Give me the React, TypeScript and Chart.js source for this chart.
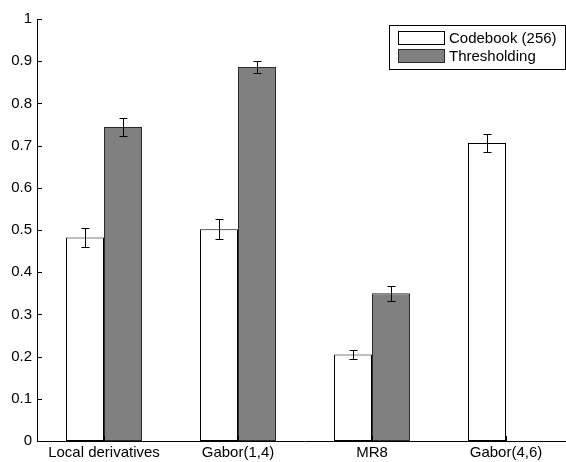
import React, { useEffect, useRef } from "react";
import { Chart, registerables } from "chart.js";

Chart.register(...registerables);

const categories = ["Local derivatives", "Gabor(1,4)", "MR8", "Gabor(4,6)"];
const seriesLabels = ["Codebook (256)", "Thresholding"];
const codebookValues = [0.482, 0.502, 0.205, 0.706];
const codebookErrors = [0.022, 0.023, 0.011, 0.022];
const thresholdingValues: (number | null)[] = [0.744, 0.886, 0.35, null];
const thresholdingErrors: (number | null)[] = [0.021, 0.014, 0.0175, null];
const yTicks = [0, 0.1, 0.2, 0.3, 0.4, 0.5, 0.6, 0.7, 0.8, 0.9, 1];
const seriesFill = ["#ffffff", "#808080"];
const seriesBorder = ["#000000", "#2a2a2a"];
const errorSets = [codebookErrors, thresholdingErrors];

const FONT = "'Liberation Sans', Arial, Helvetica, sans-serif";

const errorBarPlugin = {
  id: "errorBars",
  afterDatasetsDraw(chart: any) {
    const ctx = chart.ctx;
    const yScale = chart.scales.y;
    ctx.save();
    ctx.strokeStyle = "#000";
    ctx.lineWidth = 1;
    chart.data.datasets.forEach((ds: any, d: number) => {
      const meta = chart.getDatasetMeta(d);
      ds.data.forEach((v: number | null, i: number) => {
        const e = errorSets[d][i];
        if (v == null || e == null) return;
        const bar = meta.data[i];
        const x = Math.round(bar.x) + 0.5;
        const yT = Math.round(yScale.getPixelForValue(v + e)) + 0.5;
        const yB = Math.round(yScale.getPixelForValue(v - e)) + 0.5;
        ctx.beginPath();
        ctx.moveTo(x, yT);
        ctx.lineTo(x, yB);
        ctx.moveTo(x - 4, yT);
        ctx.lineTo(x + 4, yT);
        ctx.moveTo(x - 4, yB);
        ctx.lineTo(x + 4, yB);
        ctx.stroke();
      });
    });
    ctx.restore();
  },
};

const axesPlugin = {
  id: "inwardTicks",
  afterDraw(chart: any) {
    const ctx = chart.ctx;
    const { left, bottom } = chart.chartArea;
    const yScale = chart.scales.y;
    const xScale = chart.scales.x;
    ctx.save();
    ctx.strokeStyle = "#000";
    ctx.lineWidth = 1;
    ctx.beginPath();
    yTicks.forEach((t) => {
      const y = Math.round(yScale.getPixelForValue(t)) + 0.5;
      ctx.moveTo(left, y);
      ctx.lineTo(left + 5, y);
    });
    categories.forEach((_, i) => {
      const x = Math.round(xScale.getPixelForValue(i)) + 0.5;
      ctx.moveTo(x, bottom);
      ctx.lineTo(x, bottom - 5);
    });
    ctx.stroke();

    // legend box
    const bx = 389.5, by = 25.5, bw = 176, bh = 44;
    ctx.fillStyle = "#fff";
    ctx.fillRect(bx, by, bw, bh);
    ctx.strokeStyle = "#000";
    ctx.strokeRect(bx, by, bw, bh);
    ctx.font = `15px ${FONT}`;
    ctx.textBaseline = "middle";
    ctx.textAlign = "left";
    seriesLabels.forEach((lab, k) => {
      const sy = 31.5 + k * 18;
      ctx.fillStyle = seriesFill[k];
      ctx.fillRect(398.5, sy, 46, 13);
      ctx.strokeStyle = seriesBorder[k];
      ctx.strokeRect(398.5, sy, 46, 13);
      ctx.fillStyle = "#000";
      ctx.fillText(lab, 449, sy + 7);
    });
    ctx.restore();
  },
};

export default function App() {
  const ref = useRef<HTMLCanvasElement>(null);
  useEffect(() => {
    if (!ref.current) return;
    const chart = new Chart(ref.current, {
      type: "bar",
      data: {
        labels: categories,
        datasets: [
          {
            label: seriesLabels[0],
            data: codebookValues,
            backgroundColor: seriesFill[0],
            borderColor: seriesBorder[0],
            borderWidth: 1,
            borderSkipped: false,
            barPercentage: 1,
            categoryPercentage: 0.567,
          },
          {
            label: seriesLabels[1],
            data: thresholdingValues,
            backgroundColor: seriesFill[1],
            borderColor: seriesBorder[1],
            borderWidth: 1,
            borderSkipped: false,
            barPercentage: 1,
            categoryPercentage: 0.567,
          },
        ],
      },
      options: {
        responsive: false,
        animation: false,
        devicePixelRatio: 1,
        layout: { padding: { top: 19, right: 7, left: 0, bottom: 0 } },
        plugins: { legend: { display: false }, tooltip: { enabled: false } },
        scales: {
          x: {
            afterFit: (axis: any) => {
              axis.height = 21;
            },
            grid: { display: false, drawTicks: false },
            border: { display: true, color: "#000", width: 1 },
            ticks: { color: "#000", padding: 3, font: { family: FONT, size: 15 }, maxRotation: 0 },
          },
          y: {
            min: 0,
            max: 1,
            afterBuildTicks: (axis: any) => {
              axis.ticks = yTicks.map((v) => ({ value: v }));
            },
            afterFit: (axis: any) => {
              axis.width = 37;
            },
            grid: { display: false, drawTicks: false },
            border: { display: true, color: "#000", width: 1 },
            ticks: {
              color: "#000",
              padding: 5,
              font: { family: FONT, size: 15 },
              callback: (v: any) => String(Number(Number(v).toFixed(1))),
            },
          },
        },
      },
      plugins: [errorBarPlugin, axesPlugin],
    });
    return () => chart.destroy();
  }, []);
  return (
    <div style={{ position: "absolute", left: 0, top: 0, width: 566, height: 462, overflow: "hidden", background: "#fff" }}>
      <canvas ref={ref} width={580} height={462} style={{ display: "block", width: 580, height: 462 }} />
    </div>
  );
}
